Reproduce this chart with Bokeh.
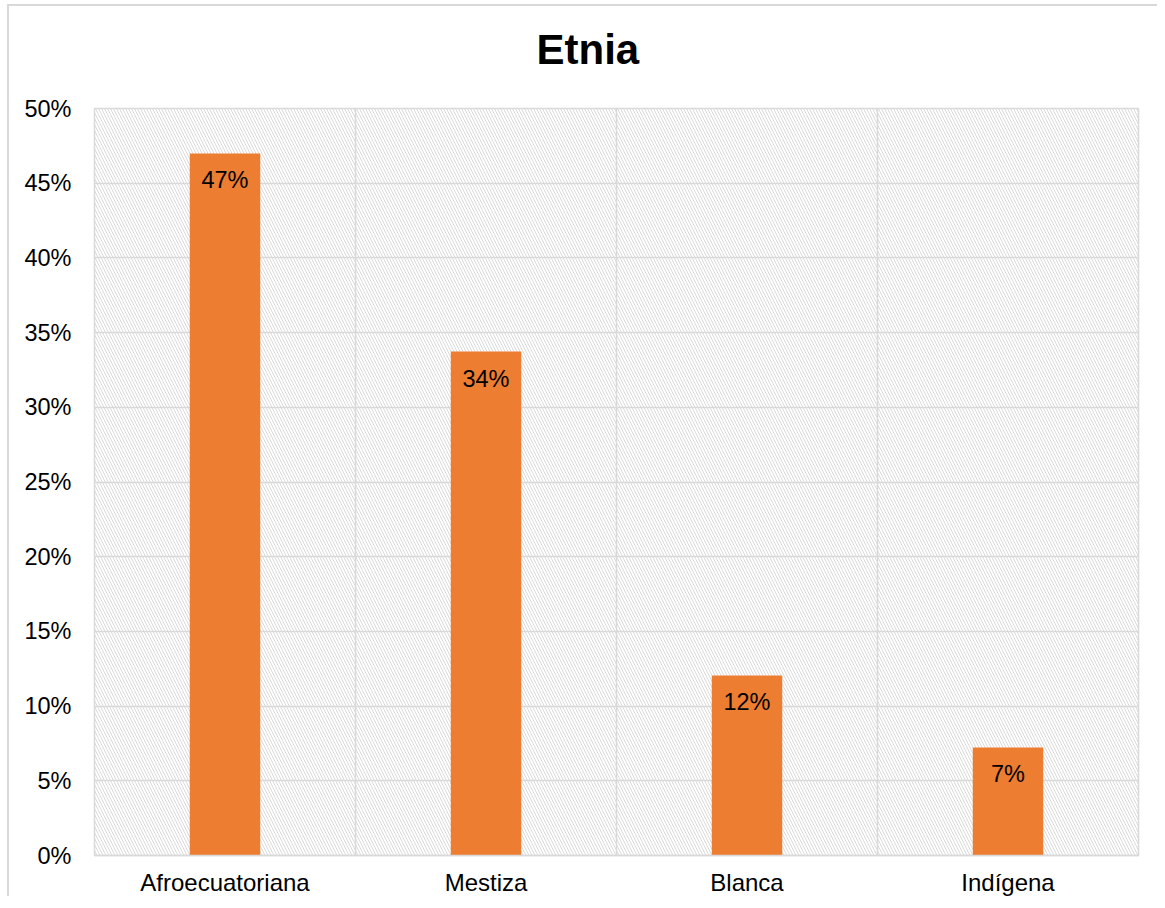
from bokeh.plotting import figure
from bokeh.models import Range1d, FixedTicker, NumeralTickFormatter, BoxAnnotation, Title
from bokeh.core.properties import value
from bokeh.embed import file_html
from bokeh.resources import INLINE

title = "Etnia"
categories = ["Afroecuatoriana", "Mestiza", "Blanca", "Indígena"]
shares = [0.4699, 0.3373, 0.1205, 0.0723]
y_ticks = [0.0, 0.05, 0.10, 0.15, 0.20, 0.25, 0.30, 0.35, 0.40, 0.45, 0.50]

positions = [i + 0.5 for i in range(len(categories))]
labels = [f"{round(v * 100)}%" for v in shares]

FONT = "Liberation Sans"
GRID = "#d9d9d9"

p = figure(width=1150, height=892, output_backend="svg", toolbar_location=None,
           x_range=Range1d(0, len(categories)), y_range=Range1d(y_ticks[0], y_ticks[-1]),
           min_border_left=85, min_border_right=21, min_border_top=102, min_border_bottom=41)

p.styles = {"border-top": "2px solid #d9d9d9", "border-left": "2px solid #d9d9d9",
            "margin-top": "4px", "margin-left": "7px"}

# invisible spacer panel between the frame and the title
p.add_layout(Title(text=" ", text_font_size="1px", standoff=28), "above")

p.title.text = title
p.title.text_font = FONT
p.title.text_font_size = "42px"
p.title.text_font_style = "bold"
p.title.text_color = "#000000"
p.title.align = "left"
p.title.offset = 442
p.title.standoff = 10

p.outline_line_color = GRID
p.outline_line_width = 1.5

# hatched plot-area background
bg = BoxAnnotation(fill_alpha=0, line_alpha=0, hatch_pattern="left_diagonal_line",
                   hatch_color="#d9d9d9", hatch_scale=6, hatch_weight=1, level="underlay")
p.add_layout(bg)

p.vbar(x=positions, top=shares, width=0.27, color="#ED7D31", line_color=None)

p.text(x=positions, y=shares, text=labels, text_align="center", text_baseline="top",
       y_offset=14, text_font=value(FONT), text_font_size="23.5px", text_color="#000000")

# axes
p.xaxis.ticker = FixedTicker(ticks=positions)
p.xaxis.major_label_overrides = {pos: c for pos, c in zip(positions, categories)}
p.yaxis.ticker = FixedTicker(ticks=y_ticks)
p.yaxis.formatter = NumeralTickFormatter(format="0%")

for ax in (p.xaxis[0], p.yaxis[0]):
    ax.major_tick_line_color = None
    ax.minor_tick_line_color = None
    ax.major_label_text_font = FONT
    ax.major_label_text_color = "#000000"
p.xaxis.major_label_text_font_size = "24px"
p.yaxis.major_label_text_font_size = "23.5px"
p.xaxis.axis_line_color = GRID
p.xaxis.axis_line_width = 1.5
p.yaxis.axis_line_color = None
p.xaxis.major_label_standoff = 7
p.yaxis.major_label_standoff = 17

p.xgrid.ticker = FixedTicker(ticks=list(range(len(categories) + 1)))
p.xgrid.grid_line_color = GRID
p.ygrid.grid_line_color = GRID
p.xgrid.grid_line_width = 1.5
p.ygrid.grid_line_width = 1.5

open("out.html", "w").write(file_html(p, INLINE))
